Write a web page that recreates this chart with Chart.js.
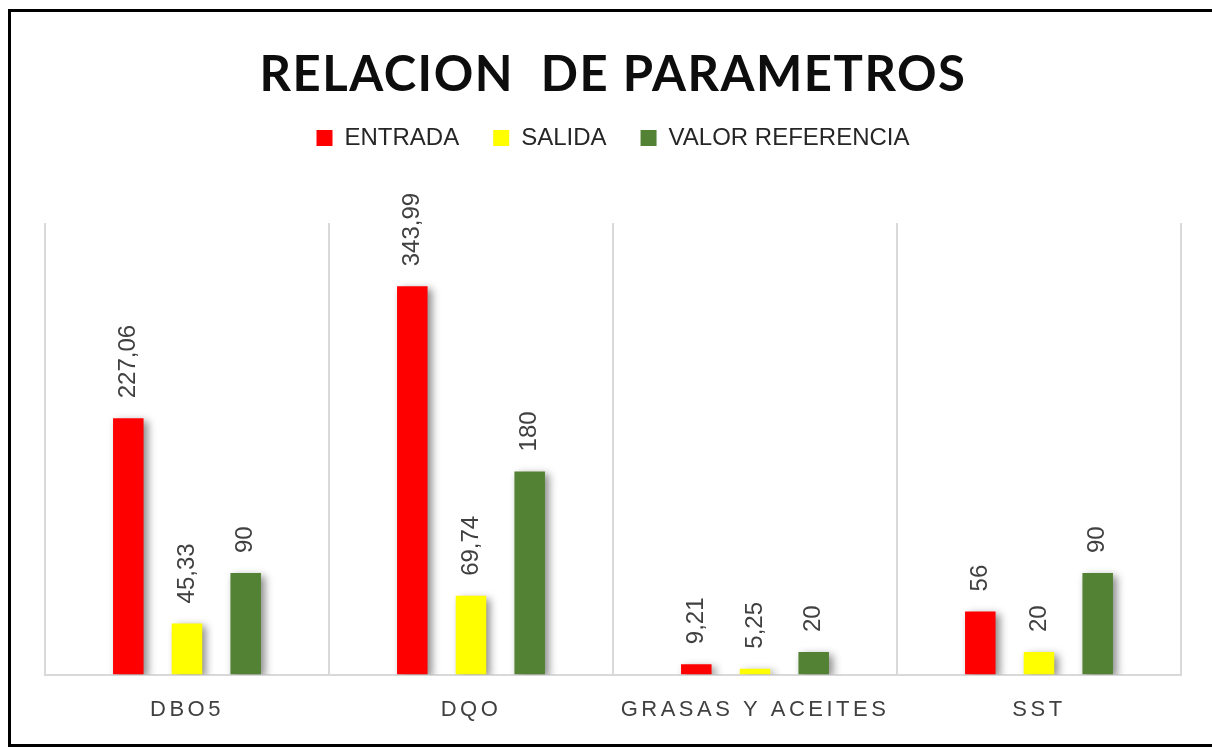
<!DOCTYPE html>
<html><head><meta charset="utf-8">
<script src="https://cdn.jsdelivr.net/npm/chart.js@4.4.1/dist/chart.umd.min.js"></script>
<style>
html,body{margin:0;padding:0;overflow:hidden;background:#fff;width:1212px;height:747px}
#frame{position:absolute;left:8px;top:9px;width:1230px;height:738px;border:3px solid #000;box-sizing:border-box;pointer-events:none;z-index:2}
canvas{position:absolute;left:0;top:0}
</style></head><body>
<canvas id="c" width="1212" height="747"></canvas>
<div id="frame"></div>
<script>
const categories = ['DBO5', 'DQO', 'GRASAS Y ACEITES', 'SST'];
const seriesNames = ['ENTRADA', 'SALIDA', 'VALOR REFERENCIA'];
const entrada = [227.06, 343.99, 9.21, 56];
const salida = [45.33, 69.74, 5.25, 20];
const valorReferencia = [90, 180, 20, 90];
const seriesColors = ['#FF0000', '#FFFF00', '#548235'];
const yMin = 0, yMax = 400;
const titleText = 'RELACION  DE PARAMETROS';

const spacingPlugin = {
  id: 'spacing',
  beforeDraw(chart) {
    const tb = chart.titleBlock;
    if (tb && !tb.__ls) {
      const o = tb.draw;
      tb.draw = function (a) { const c = this.ctx; c.save(); c.letterSpacing = '1.5px'; o.call(this, a); c.restore(); };
      tb.__ls = true;
    }
    const sx = chart.scales.x;
    if (sx && !sx.__ls) {
      const o2 = sx.drawLabels;
      sx.drawLabels = function (a) { const c = this.ctx; c.save(); c.letterSpacing = '3.5px'; o2.call(this, a); c.restore(); };
      sx.__ls = true;
    }
  }
};

const labelPlugin = {
  id: 'valueLabels',
  beforeDatasetsDraw(chart) {
    const ctx = chart.ctx;
    ctx.save();
    ctx.shadowColor = 'rgba(0,0,0,0.45)';
    ctx.shadowBlur = 8;
    ctx.shadowOffsetX = 4;
    ctx.shadowOffsetY = 3;
  },
  afterDatasetsDraw(chart) {
    const ctx = chart.ctx;
    ctx.restore();
    ctx.save();
    ctx.font = '24px "Liberation Sans", Arial, sans-serif';
    ctx.fillStyle = '#404040';
    ctx.textAlign = 'left';
    ctx.textBaseline = 'middle';
    chart.data.datasets.forEach((ds, i) => {
      chart.getDatasetMeta(i).data.forEach((el, j) => {
        const t = String(ds.data[j]).replace('.', ',');
        ctx.save();
        ctx.translate(el.x, el.y - 20);
        ctx.rotate(-Math.PI / 2);
        ctx.fillText(t, 0, 0);
        ctx.restore();
      });
    });
    ctx.restore();
  }
};

const seriesData = [entrada, salida, valorReferencia];

new Chart(document.getElementById('c'), {
  type: 'bar',
  data: {
    labels: categories,
    datasets: seriesNames.map((n, i) => ({
      label: n,
      data: seriesData[i],
      backgroundColor: seriesColors[i],
      borderWidth: 0,
      categoryPercentage: 0.62,
      barPercentage: 0.52
    }))
  },
  options: {
    responsive: false,
    animation: false,
    devicePixelRatio: 1,
    layout: { padding: { left: 45, right: 31, top: 0, bottom: 2 } },
    plugins: {
      tooltip: { enabled: false },
      title: {
        display: true,
        text: titleText,
        color: '#0d0d0d',
        font: { family: 'Lato', size: 49, weight: 'bold', lineHeight: 1 },
        padding: { top: 51, bottom: -8 }
      },
      legend: {
        position: 'top',
        labels: {
          boxWidth: 16,
          boxHeight: 16,
          padding: 34,
          color: '#262626',
          font: { family: '"Liberation Sans", Arial, sans-serif', size: 24 }
        }
      }
    },
    scales: {
      x: {
        offset: true,
        grid: { display: true, offset: true, color: '#d9d9d9', lineWidth: 2, drawTicks: false },
        border: { display: true, color: '#d9d9d9', width: 2 },
        ticks: {
          color: '#404040',
          padding: 22,
          maxRotation: 0,
          autoSkip: false,
          font: { family: '"Liberation Sans", Arial, sans-serif', size: 22 }
        }
      },
      gap: {
        type: 'linear',
        axis: 'x',
        position: 'top',
        display: true,
        grid: { display: false },
        border: { display: false },
        ticks: { display: false },
        afterFit(s) { s.height = 63; }
      },
      y: {
        display: false,
        min: yMin,
        max: yMax
      }
    }
  },
  plugins: [spacingPlugin, labelPlugin]
});
</script>
</body></html>
